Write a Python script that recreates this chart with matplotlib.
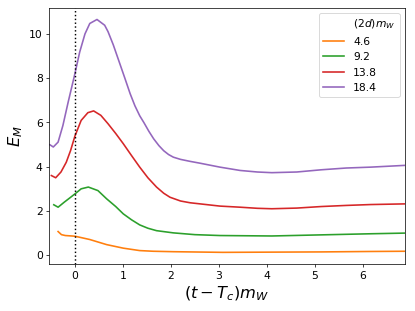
import numpy as np
import matplotlib
matplotlib.use('Agg')
import matplotlib.pyplot as plt

plt.rcParams['font.size'] = 12

# (2d)m_W values
labels = ['4.6', '9.2', '13.8', '18.4']
colors = ['tab:orange', 'tab:green', 'tab:red', 'tab:purple']

# curves: (t - T_c) m_W  vs  E_M
x_46 = [-0.35, -0.28, -0.2, 0.0, 0.31, 0.66, 1.007, 1.35, 1.63, 2.05, 3.08, 4.1, 5.13, 6.16, 6.875]
y_46 = [1.07, 0.93, 0.89, 0.86, 0.71, 0.48, 0.32, 0.21, 0.18, 0.16, 0.13, 0.14, 0.15, 0.17, 0.18]

x_92 = [-0.44, -0.35, -0.22, -0.1, 0.0, 0.13, 0.28, 0.48, 0.66, 0.85, 1.007, 1.18, 1.35, 1.52, 1.7,
        2.05, 2.5, 3.02, 4.1, 5.13, 6.16, 6.875]
y_92 = [2.28, 2.17, 2.4, 2.6, 2.77, 3.0, 3.08, 2.92, 2.55, 2.2, 1.87, 1.6, 1.37, 1.22, 1.11,
        1.01, 0.93, 0.89, 0.87, 0.92, 0.97, 1.0]

x_138 = [-0.49, -0.4, -0.29, -0.18, -0.09, 0.0, 0.13, 0.27, 0.39, 0.54, 0.69, 0.85, 1.007, 1.18, 1.35,
         1.52, 1.7, 1.85, 1.98, 2.2, 2.4, 3.02, 3.44, 3.8, 4.1, 4.62, 5.13, 5.65, 6.16, 6.875]
y_138 = [3.6, 3.5, 3.76, 4.2, 4.73, 5.38, 6.09, 6.44, 6.52, 6.32, 5.94, 5.5, 5.04, 4.5, 3.98,
         3.5, 3.08, 2.8, 2.62, 2.45, 2.37, 2.22, 2.17, 2.12, 2.1, 2.13, 2.2, 2.25, 2.29, 2.32]

x_184 = [-0.52, -0.45, -0.35, -0.25, -0.14, 0.0, 0.1, 0.21, 0.31, 0.46, 0.62, 0.69, 0.8, 0.92, 1.04,
         1.15, 1.25, 1.35, 1.44, 1.54, 1.64, 1.75, 1.85, 1.95, 2.05, 2.2, 2.4, 2.6, 2.81, 3.02, 3.44,
         3.8, 4.1, 4.62, 5.13, 5.65, 6.16, 6.875]
y_184 = [4.99, 4.89, 5.11, 5.86, 6.92, 8.2, 9.18, 10.0, 10.47, 10.65, 10.39, 10.1, 9.5, 8.75, 8.0,
         7.3, 6.75, 6.3, 5.98, 5.6, 5.26, 4.95, 4.72, 4.55, 4.43, 4.33, 4.24, 4.16, 4.07, 3.98, 3.83,
         3.76, 3.73, 3.76, 3.86, 3.94, 3.98, 4.06]

xs = [x_46, x_92, x_138, x_184]
ys = [y_46, y_92, y_138, y_184]

fig = plt.figure(figsize=(6.4, 4.8), dpi=415/6.4)
ax = fig.add_axes([0.118, 0.151, 0.858, 0.823])

ax.plot([], [], ' ', label='$(2d)m_W$')
for x, y, c, l in zip(xs, ys, colors, labels):
    ax.plot(x, y, color=c, label=l, linewidth=1.8)

ax.axvline(0, color='k', linestyle=':', linewidth=1.6)
ax.set_xlim(-0.54, 6.875)
ax.set_xlabel('$(t-T_c)m_W$', fontsize=18)
ax.set_ylabel('$E_M$', fontsize=18)
ax.legend(loc='upper right')

fig.savefig('out.png', dpi=415/6.4)
